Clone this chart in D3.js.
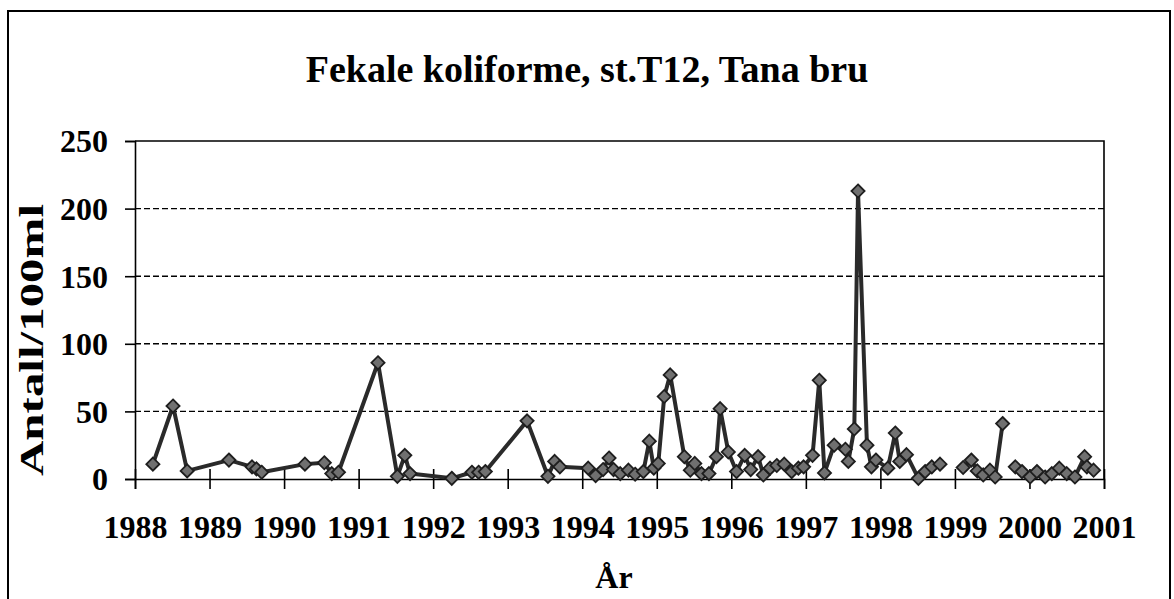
<!DOCTYPE html>
<html>
<head>
<meta charset="utf-8">
<script src="https://cdn.jsdelivr.net/npm/d3@7"></script>
<style>
  html, body { margin: 0; padding: 0; background: #fff; }
  svg { display: block; }
  text { font-family: "Liberation Serif", "Times New Roman", serif; font-weight: bold; fill: #000; }
</style>
</head>
<body>
<svg id="chart" width="1174" height="599"></svg>
<script>
// ---- data (decimal year, value; null = break in the line) ----
const years = [
  1988.24, 1988.51, 1988.70, 1989.26, 1989.57, 1989.63, 1989.70, 1990.28, 1990.54, 1990.64,
  1990.73, 1991.26, 1991.52, 1991.62, 1991.69, 1992.25, 1992.52, 1992.61, 1992.70, 1993.26,
  1993.54, 1993.63, 1993.70, 1994.08, 1994.18, 1994.28, 1994.36, 1994.42, 1994.51, 1994.62,
  1994.71, 1994.82, 1994.90, 1994.96, 1995.02, 1995.10, 1995.18, 1995.37, 1995.45, 1995.51,
  1995.60, 1995.70, 1995.80, 1995.85, 1995.96, 1996.07, 1996.18, 1996.26, 1996.36, 1996.43,
  1996.52, 1996.61, 1996.71, 1996.81, 1996.90, 1996.97, 1997.09, 1997.18, 1997.25, 1997.38,
  1997.53, 1997.57, 1997.65, 1997.70, 1997.82, 1997.88, 1997.94, 1998.10, 1998.20, 1998.26,
  1998.35, 1998.51, 1998.60, 1998.69, 1998.80, 1998.95, 1999.11, 1999.22, 1999.30, 1999.38,
  1999.47, 1999.54, 1999.64, 1999.72, 1999.81, 1999.90, 2000.01, 2000.10, 2000.21, 2000.30,
  2000.40, 2000.50, 2000.61, 2000.74, 2000.77, 2000.86
];
const counts = [
  11, 54, 6, 14, 9, 7.5, 5, 11, 12, 4,
  5, 86, 2, 17.5, 4, 0.5, 5, 5, 5.5, 43,
  2, 13, 9, 8, 2.5, 7, 15.5, 7, 4, 6.5,
  3.5, 5.5, 28, 8, 11.5, 61, 77, 16.5, 6.5, 11.5,
  4, 4, 16.5, 52, 20, 5.5, 17.5, 7, 16.5, 3,
  8, 10, 11, 5.5, 8, 9, 17.5, 73, 4.5, 25,
  22, 13, 37, 213, 25, 9, 14, 8, 34, 13,
  18, 0.5, 5.5, 9, 11, null, 8.5, 14, 6, 3,
  6.5, 1.5, 41, null, 9, 5.5, 1.5, 5.5, 1.5, 4,
  8, 4, 1.5, 16.5, 9, 6.5
];
const yTicks = [0, 50, 100, 150, 200, 250];
const xTicks = [1988, 1989, 1990, 1991, 1992, 1993, 1994, 1995, 1996, 1997, 1998, 1999, 2000, 2001];
const titleText = "Fekale koliforme, st.T12, Tana bru";
const xTitle = "År";
const yTitle = "Antall/100ml";

// ---- layout ----
const svg = d3.select("#chart");
const plot = { left: 135, right: 1104, top: 141, bottom: 479 };

const x = d3.scaleLinear().domain([1988, 2001]).range([plot.left, plot.right]);
const y = d3.scaleLinear().domain([0, 250]).range([plot.bottom, plot.top]);

const data = years.map((yr, i) => ({ t: yr, v: counts[i] }));

// outer frame
svg.append("rect")
  .attr("x", 8).attr("y", 11).attr("width", 1162).attr("height", 600)
  .attr("fill", "none").attr("stroke", "#000").attr("stroke-width", 2);

// title
svg.append("text")
  .attr("x", 587).attr("y", 82)
  .attr("text-anchor", "middle")
  .style("font-size", "38px")
  .text(titleText);

// gridlines
svg.append("g")
  .selectAll("line")
  .data(yTicks.filter(d => d > 0 && d < 250))
  .join("line")
  .attr("x1", plot.left).attr("x2", plot.right)
  .attr("y1", d => y(d)).attr("y2", d => y(d))
  .attr("stroke", "#000").attr("stroke-width", 1.4)
  .attr("stroke-dasharray", "6,3");

// plot border (top and right)
svg.append("path")
  .attr("d", `M${plot.left},${plot.top}H${plot.right}V${plot.bottom}`)
  .attr("fill", "none").attr("stroke", "#000").attr("stroke-width", 1.6);

// y axis
const yAxis = d3.axisLeft(y).tickValues(yTicks).tickSize(10).tickPadding(17);
const gy = svg.append("g").attr("transform", `translate(${plot.left},0)`).call(yAxis);
gy.select(".domain").attr("stroke", "#000").attr("stroke-width", 1.6);
gy.selectAll(".tick line").attr("stroke", "#000").attr("stroke-width", 1.6);
gy.selectAll(".tick text")
  .style("font-size", "32px")
  .style("font-family", "'Liberation Serif', 'Times New Roman', serif")
  .style("font-weight", "bold")
  .attr("dy", "0.34em");

// x axis (cross ticks)
const xAxis = d3.axisBottom(x).tickValues(xTicks).tickFormat(d3.format("d")).tickSize(10).tickPadding(26);
const gx = svg.append("g").attr("transform", `translate(0,${plot.bottom})`).call(xAxis);
gx.select(".domain").attr("stroke", "#000").attr("stroke-width", 1.6);
gx.selectAll(".tick line").attr("y1", -10).attr("y2", 10).attr("stroke", "#000").attr("stroke-width", 1.6);
gx.selectAll(".tick text")
  .style("font-size", "32px")
  .style("font-family", "'Liberation Serif', 'Times New Roman', serif")
  .style("font-weight", "bold");

// axis titles
svg.append("text")
  .attr("x", 614).attr("y", 588)
  .attr("text-anchor", "middle")
  .style("font-size", "32px")
  .text(xTitle);

svg.append("text")
  .attr("transform", `translate(43,340) rotate(-90)`)
  .attr("text-anchor", "middle")
  .attr("textLength", 272)
  .attr("lengthAdjust", "spacingAndGlyphs")
  .style("font-size", "34px")
  .text(yTitle);

// series line
const line = d3.line()
  .defined(d => d.v != null)
  .x(d => x(d.t))
  .y(d => y(d.v));

svg.append("path")
  .datum(data)
  .attr("d", line)
  .attr("fill", "none")
  .attr("stroke", "#2a2a2a")
  .attr("stroke-width", 4)
  .attr("stroke-linejoin", "round");

// diamond markers
const diamond = d3.symbol().type(d3.symbolDiamond2).size(110);
svg.append("g")
  .selectAll("path")
  .data(data.filter(d => d.v != null))
  .join("path")
  .attr("transform", d => `translate(${x(d.t)},${y(d.v)})`)
  .attr("d", diamond)
  .attr("fill", "#707070")
  .attr("stroke", "#1e1e1e")
  .attr("stroke-width", 1.8);
</script>
</body>
</html>
